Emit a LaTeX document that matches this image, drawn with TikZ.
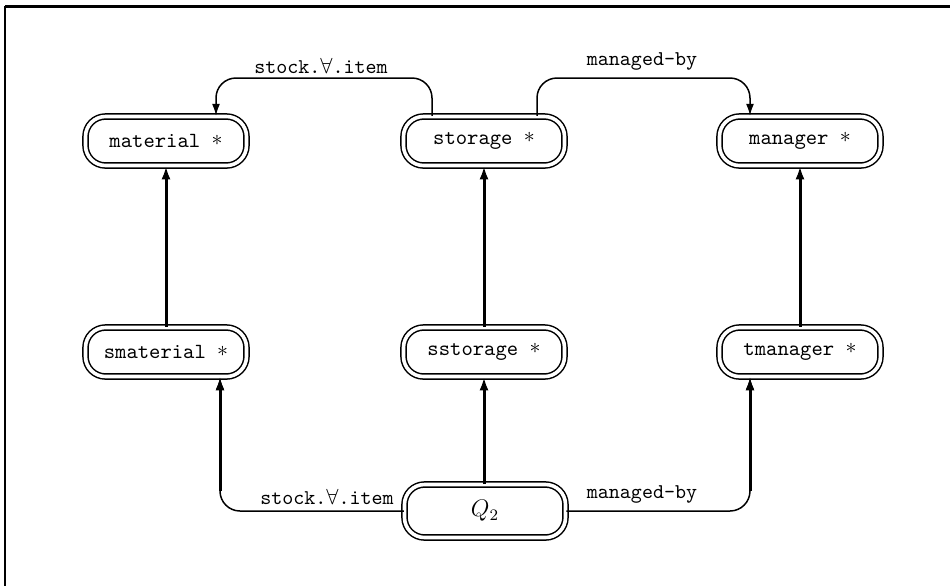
\documentclass[tikz,border=0pt]{standalone}
\usetikzlibrary{arrows.meta}
\newcommand{\myast}{\raisebox{1.2pt}{$\ast$}}
\begin{document}
\begin{tikzpicture}[x=0.5pt,y=-0.5pt,
  cls/.style={draw, line width=0.75pt, double, double distance=1.8pt, rounded corners=10pt,
    minimum width=80.5pt, minimum height=24.5pt, inner sep=0pt,
    font=\fontsize{10.8}{12}\selectfont\ttfamily},
  isa/.style={line width=1.5pt, -{Latex[length=6.5pt,width=4.5pt]}},
  rel/.style={line width=0.75pt, rounded corners=10pt, -{Latex[length=6pt,width=4pt]}},
  lab/.style={font=\fontsize{10.5}{12}\selectfont\ttfamily, inner sep=1pt}]
\useasboundingbox (0,0) rectangle (950,586);
% frame
\draw[line width=1.5pt] (5,6) -- (950,6);
\draw[line width=0.75pt] (5,6) -- (5,586);
% nodes
\node[cls] (material) at (166,141) {material \myast};
\node[cls] (storage) at (484,141) {storage \myast};
\node[cls] (manager) at (800,141) {manager \myast};
\node[cls] (smaterial) at (166,352) {smaterial \myast};
\node[cls] (sstorage) at (484,352) {sstorage \myast};
\node[cls] (tmanager) at (800,352) {tmanager \myast};
\node[cls, minimum height=26.5pt, font=\fontsize{12}{14}\selectfont] (q) at (485,511) {$Q_2$};
% isa arrows
\draw[isa] (smaterial) -- (material);
\draw[isa] (sstorage) -- (storage);
\draw[isa] (tmanager) -- (manager);
\draw[isa] (q.north -| sstorage) -- (sstorage);
% top relations
\coordinate (c1) at (432,78);
\coordinate (c2) at (216,78);
\draw[rel] (storage.north -| c1) -- (c1) -- (c2) -- (material.north -| c2);
\coordinate (c3) at (537,78);
\coordinate (c4) at (750,78);
\draw[rel] (storage.north -| c3) -- (c3) -- (c4) -- (manager.north -| c4);
\node[lab] (l1) at (321,66) {stock.$\forall$.item};
\node[lab] (l2) at (642,61) {managed-by};
% bottom relations
\coordinate (c5) at (220,511);
\coordinate (c6) at (750,511);
\draw[rel] (q.west) -- (c5) -- (smaterial.south -| c5);
\draw[isa] ([yshift=10pt]c5) -- (smaterial.south -| c5);
\draw[rel] (q.east) -- (c6) -- (tmanager.south -| c6);
\draw[isa] ([yshift=10pt]c6) -- (tmanager.south -| c6);
\node[lab] (l3) at (327,497) {stock.$\forall$.item};
\node[lab] (l4) at (642,494) {managed-by};
\end{tikzpicture}
\end{document}
